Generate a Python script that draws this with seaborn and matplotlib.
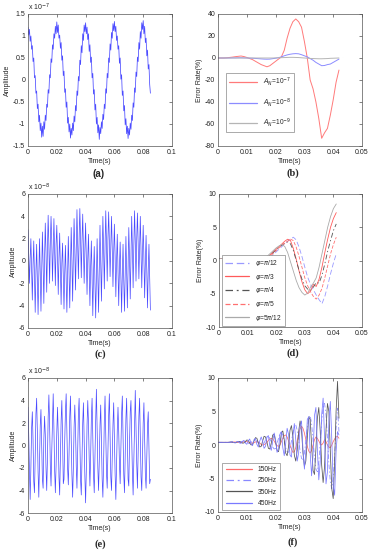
import numpy as np
import pandas as pd
import matplotlib
matplotlib.use("Agg")
import matplotlib.pyplot as plt
from matplotlib.lines import Line2D
import seaborn as sns

# ---------------- DATA ----------------
# (a) signal, units of 1e-7, t from 0 to 0.085 s
sig_a = [1.20, 1.02, 1.15, 0.88, 1.00, 0.70, 0.78, 0.42, 0.50, 0.05, 0.10, -0.30, -0.25, -0.65, -0.55, -0.95, -0.80, -1.15, -0.98, -1.30, -1.05,
         -1.28, -0.95, -1.12, -0.80, -0.92, -0.55, -0.62, -0.22, -0.30, 0.12, 0.05, 0.48, 0.40, 0.80, 0.70, 1.05, 0.95, 1.22, 1.05,
         1.32, 1.08, 1.25, 0.95, 1.02, 0.72, 0.85, 0.45, 0.55, 0.10, 0.20, -0.28, -0.20, -0.62, -0.50, -0.98, -0.85, -1.18, -1.00, -1.32,
         -1.10, -1.25, -0.98, -1.15, -0.82, -0.95, -0.58, -0.70, -0.25, -0.35, 0.08, -0.02, 0.45, 0.35, 0.78, 0.62, 1.05, 0.90, 1.25, 1.10,
         1.30, 1.05, 1.20, 0.92, 1.05, 0.65, 0.80, 0.40, 0.52, 0.05, 0.15, -0.32, -0.22, -0.68, -0.55, -1.00, -0.85, -1.20, -1.02, -1.35,
         -1.08, -1.22, -0.95, -1.10, -0.78, -0.90, -0.55, -0.65, -0.20, -0.30, 0.15, 0.05, 0.50, 0.40, 0.82, 0.68, 1.08, 0.95, 1.28, 1.12,
         1.33, 1.10, 1.22, 0.90, 1.00, 0.70, 0.78, 0.38, 0.50, 0.02, 0.12, -0.35, -0.25, -0.70, -0.58, -1.02, -0.88, -1.22, -1.05, -1.33,
         -1.10, -1.25, -0.98, -1.12, -0.80, -0.92, -0.52, -0.62, -0.18, -0.28, 0.18, 0.08, 0.52, 0.42, 0.85, 0.70, 1.10, 0.95, 1.30, 1.15,
         1.35, 1.05, 1.22, 0.85, 0.95, 0.55, 0.68, 0.25, 0.35, -0.10, -0.30]

# (c) signal, units of 1e-8
sig_c = [2.8, 0.6, -2.0, 0.2, 2.0, -0.8, -3.5, -0.3, 1.8, -1.5, -4.6, -1.0, 1.5, -1.8, -4.8, -1.2,
         2.0, -1.0, -4.5, -0.8, 2.6, -0.3, -3.8, 0.2, 3.4, 0.8, -2.8, 1.0, 4.1, 1.4, -2.0, 1.6,
         4.0, 1.8, -1.8, 1.2, 3.8, 1.0, -2.2, 1.5, 3.2, 0.5, -3.0, 0.3, 2.5, -0.6, -3.9, -0.2,
         1.6, -1.4, -4.3, -1.0, 1.4, -1.7, -4.6, -1.3, 2.2, -1.0, -4.2, -0.6, 3.0, 0.0, -3.6, 0.5,
         3.8, 1.0, -2.6, 1.2, 4.6, 1.6, -1.6, 2.0, 4.7, 2.0, -1.5, 1.8, 4.2, 1.2, -2.0, 1.0,
         3.4, 0.4, -3.0, 0.2, 2.4, -0.8, -4.0, -0.5, 1.8, -1.5, -4.9, -1.2, 1.3, -1.9, -5.1, -1.4,
         2.0, -1.2, -4.6, -0.8, 3.2, -0.2, -3.6, 0.3, 4.0, 1.0, -2.5, 1.3, 4.5, 1.6, -1.8, 1.9,
         4.4, 1.8, -1.4, 1.5, 4.0, 1.1, -2.3, 0.8, 3.3, 0.3, -3.2, 0.0, 2.4, -0.9, -4.0, -0.6,
         1.7, -1.6, -4.6, -1.2, 1.5, -1.8, -4.5, -1.1, 2.2, -1.0, -4.2, -0.5, 3.0, 0.2, -3.4, 0.6,
         4.0, 1.2, -2.4, 1.4, 4.5, 1.7, -1.8, 2.0, 4.3, 1.6, -1.6, 1.4, 4.0, 1.0, -2.4, 0.7,
         3.2, 0.2, -3.3, -0.2, 2.3, -1.0, -4.2, -0.8, 1.5, -1.6, -4.4]

# (e) signal, units of 1e-8
sig_e = [3.4, 1.0, -2.2, -4.8, -2.0, 1.5, 3.0, 0.5, -3.2, -4.2, -1.0, 2.8, 4.2, 1.2, -2.4, -4.6, -1.5, 1.8, 3.2, 0.2,
         -3.0, -3.8, 0.5, 2.6, 1.0, -2.0, -4.0, -1.2, 2.5, 4.5, 2.0, -1.8, -3.6, -0.5, 2.0, 4.6, 1.5, -2.2, -4.2, -1.8,
         1.2, 3.4, 1.0, -2.8, -4.4, -1.0, 2.2, 4.0, 0.8, -3.4, -3.0, 0.4, 3.0, 4.6, 1.2, -2.0, -3.5, -0.8, 2.6, 4.4,
         0.6, -2.6, -4.6, -2.0, 1.6, 3.6, 1.4, -1.8, -3.8, -0.6, 2.8, 4.2, 0.8, -3.0, -4.4, -1.2, 2.0, 3.8, 0.5, -2.8,
         -5.1, -2.2, 1.8, 4.0, 2.0, -1.2, -3.6, -1.0, 2.4, 4.2, 1.0, -2.6, -4.2, -0.8, 2.2, 5.0, 1.6, -2.0, -4.0, -1.4,
         1.8, 3.6, 0.4, -3.0, -4.6, -1.6, 2.2, 4.4, 1.2, -2.4, -3.8, -0.4, 2.6, 4.6, 1.0, -2.8, -4.0, -1.2, 1.8, 3.8,
         0.6, -2.6, -4.8, -1.8, 1.4, 3.4, 1.2, -1.6, -3.4, -0.2, 2.8, 4.4, 1.0, -2.6, -4.2, -1.0, 2.4, 4.2, 0.6, -3.0,
         -3.6, 0.2, 3.0, 4.0, 1.0, -2.4, -4.4, -1.4, 2.0, 4.9, 1.8, -1.6, -3.8, -0.8, 2.6, 4.2, 0.8, -2.8, -4.0, -1.2,
         2.0, 3.8, 0.4, -2.6, -3.8, -1.0, 1.8, 3.0, -0.4, -3.4, -3.0]

# (b) error rates, t = 0 .. 0.042 s step 0.001
b_labels = [r"$A_N$=10$^{-7}$", r"$A_N$=10$^{-8}$", r"$A_N$=10$^{-9}$"]
err_b_7 = [0, 0, 0, 0.2, 0.5, 0.8, 1.2, 1.5, 1.8, 1.3, 0.5, -0.5, -1.5, -3, -4.5, -6, -7, -8, -7, -5,
           -3, -1, 1, 7, 18, 27, 33, 35.5, 33, 28, 15, 0, -20, -28, -40, -55, -73, -68, -64, -52, -38, -22, -11]
err_b_8 = [0, 0, 0, 0, 0, 0.1, 0.1, 0.2, 0.2, 0.1, 0, -0.1, -0.2, -0.4, -0.6, -0.8, -1, -1.1, -1, -0.6,
           -0.2, 0.3, 1, 2, 2.8, 3.4, 3.8, 4, 3.8, 3, 2, 1, -0.5, -2, -4, -5.5, -7, -6.8, -6, -5.5, -4, -2.5, -1]
err_b_9 = [0] * 20 + [0.1, 0.2, 0.3, 0.4, 0.5, 0.6, 0.6, 0.5, 0.4, 0.2,
                      0, -0.2, -0.4, -0.5, -0.6, -0.7, -0.7, -0.6, -0.5, -0.3, -0.2, -0.1, 0]

# (d) error rates, t = 0 .. 0.041 s step 0.001
d_labels = [r"$\varphi$=$\pi$/12", r"$\varphi$=$\pi$/3", r"$\varphi$=$\pi$/4", r"$\varphi$=$\pi$/5", r"$\varphi$=5$\pi$/12"]
d_start = [0.3, 0.3, 0.3, 0.3, 0.3, 0.28, 0.25, 0.22, 0.2, 0.15, 0.1, 0.05, 0, -0.1, -0.2]
err_d_pi12 = d_start + [-0.3, -0.2, 0.1, 0.5, 0.9, 1.3, 1.7, 2.1, 2.5, 2.9, 3.2, 3.5, 3.1, 2.0, 0.6, -1.0, -2.5,
                        -3.6, -4.4, -5.2, -5.9, -6.5, -5.4, -3.8, -2.0, -0.4, 1.0]
err_d_pi3 = d_start + [-0.15, 0.1, 0.5, 0.9, 1.3, 1.7, 2.1, 2.5, 2.9, 3.2, 3.0, 1.8, 0.2, -1.6, -3.2, -4.4, -5.0,
                       -4.6, -3.6, -3.9, -2.8, -1.0, 1.2, 3.2, 5.0, 6.3, 7.2]
err_d_pi4 = d_start + [-0.2, 0.0, 0.4, 0.8, 1.2, 1.6, 2.0, 2.3, 2.6, 2.8, 2.5, 1.5, 0.0, -1.5, -2.8, -3.8, -4.3,
                       -4.5, -4.0, -3.3, -3.4, -2.2, -0.5, 1.4, 3.0, 4.5, 5.5]
err_d_pi5 = d_start + [-0.25, -0.1, 0.3, 0.7, 1.1, 1.5, 1.9, 2.3, 2.6, 2.9, 3.2, 3.0, 2.0, 0.6, -1.0, -2.6, -3.8,
                       -4.7, -5.4, -5.8, -5.2, -4.2, -2.6, -0.8, 1.0, 2.4, 3.5]
err_d_5pi12 = d_start + [-0.1, 0.3, 0.7, 1.1, 1.5, 1.9, 2.2, 2.4, 2.1, 1.2, -0.2, -1.6, -3.0, -4.1, -4.8, -5.2, -4.9,
                         -4.0, -3.4, -2.6, -1.0, 1.0, 3.0, 5.0, 6.6, 7.8, 8.5]

# (f) error rates, t = 0 .. 0.042 s step 0.0005
f_labels = ["150Hz", "250Hz", "350Hz", "450Hz"]
err_f_150 = [0.4] * 10 + [0.42, 0.45, 0.45, 0.42, 0.38, 0.35, 0.35, 0.4, 0.5, 0.55,
                          0.55, 0.45, 0.35, 0.3, 0.3, 0.35, 0.45, 0.5, 0.4, 0.3,
                          0.1, 0.0, 0.05, 0.2, 0.4, 0.7, 0.9, 1.0, 0.9, 0.6,
                          0.2, -0.1, -0.2, 0.0, 0.5, 1.0, 1.4, 1.5, 1.2, 0.6,
                          0.0, -0.6, -1.1, -1.0, -0.4, 0.6, 1.6, 2.4, 2.8, 2.5,
                          1.8, 0.8, -0.2, -0.9, -1.2, -0.8, 0.0, 0.8, 1.2, 1.0,
                          0.6, 0.2, 0.0, 0.3, 0.8, 0.5, 0.0, -0.3, -0.4, 0.0,
                          0.5, 0.9, 1.2, 1.3, 1.0]
err_f_250 = [0.4] * 8 + [0.42, 0.45,
                         0.45, 0.4, 0.35, 0.33, 0.35, 0.42, 0.5, 0.55, 0.5, 0.4,
                         0.3, 0.2, 0.25, 0.4, 0.6, 0.8, 0.85, 0.7, 0.4, 0.1,
                         -0.1, 0.0, 0.3, 0.8, 1.2, 1.3, 1.0, 0.4, -0.3, -0.6,
                         -0.5, 0.2, 1.0, 1.7, 1.9, 1.5, 0.6, -0.4, -1.0, -1.1,
                         -0.5, 0.6, 1.8, 2.7, 3.0, 2.2, 0.8, -0.9, -2.0, -2.2,
                         -1.2, 0.6, 2.6, 4.0, 4.4, 3.2, 0.8, -1.8, -3.6, -4.0,
                         -2.5, 0.4, 3.5, 5.6, 6.2, 4.5, 1.0, -2.8, -5.5, -6.5,
                         -5.0, -1.5, 2.5, 5.5, 2.0]
err_f_350 = [0.4, 0.4, 0.4, 0.4, 0.4, 0.4, 0.4, 0.4, 0.42, 0.45,
             0.42, 0.36, 0.35, 0.42, 0.5, 0.52, 0.4, 0.28, 0.3, 0.5,
             0.75, 0.7, 0.3, 0.0, 0.1, 0.6, 1.1, 1.0, 0.3, -0.3,
             -0.2, 0.6, 1.3, 1.2, 0.4, -0.5, -0.6, 0.3, 1.5, 1.6,
             0.5, -0.8, -1.0, 0.0, 1.8, 2.1, 0.8, -1.2, -1.6, -0.2,
             2.2, 2.9, 1.2, -1.5, -2.4, -0.8, 2.0, 3.6, 2.2, -1.2,
             -3.2, -2.4, 1.0, 4.2, 3.8, 0.0, -3.8, -4.4, -0.6, 4.0,
             5.6, 2.0, -3.0, -5.6, -3.2, 2.2, 6.2, 5.0, -1.0, -6.5,
             -8.0, -2.5, 5.0, 9.5, 4.0]
err_f_450 = [0.4] * 10 + [0.5, 0.35, 0.3, 0.5, 0.55, 0.3, 0.25, 0.55, 0.7, 0.3,
                          0.1, 0.6, 0.9, 0.2, -0.1, 0.7, 1.0, 0.1, -0.3, 0.6,
                          1.2, 0.6, -0.5, -0.2, 1.2, 1.4, -0.2, -0.8, 0.6, 1.8,
                          0.8, -1.1, -0.6, 1.6, 2.0, -0.4, -1.6, 0.2, 2.5, 1.6,
                          -1.5, -1.8, 1.2, 3.2, 0.8, -2.4, -1.2, 2.8, 3.6, -0.6,
                          -3.6, -1.0, 3.8, 4.2, -1.2, -4.6, -1.5, 4.4, 5.6, -0.6,
                          -5.2, -2.5, 4.5, 7.0, 1.0, -5.8, -4.0, 3.5, 6.5, 1.0,
                          -6.0, -7.5, -1.0, 2.0, 1.5]

# ticks
xt_sig = [0, 0.02, 0.04, 0.06, 0.08, 0.1]
xt_sig_lab = ["0", "0.02", "0.04", "0.06", "0.08", "0.1"]
xt_err = [0, 0.01, 0.02, 0.03, 0.04, 0.05]
xt_err_lab = ["0", "0.01", "0.02", "0.03", "0.04", "0.05"]
yt_a = [-1.5, -1, -0.5, 0, 0.5, 1, 1.5]
yt_a_lab = ["-1.5", "-1", "-0.5", "0", "0.5", "1", "1.5"]
yt_ce = [-6, -4, -2, 0, 2, 4, 6]
yt_b = [-80, -60, -40, -20, 0, 20, 40]
yt_df = [-10, -5, 0, 5, 10]

# ---------------- PLOT ----------------
sns.set_theme(style="white")
plt.rcParams["font.family"] = ["Liberation Sans", "DejaVu Sans"]
plt.rcParams["mathtext.fontset"] = "dejavusans"

W, H = 372, 550
fig = plt.figure(figsize=(W / 100, H / 100), dpi=100)


def add_ax(l, t, r, b):
    return fig.add_axes([l / W, 1 - b / H, (r - l) / W, (b - t) / H])


def style(ax, xt, xtl, yt, ytl, ylabel):
    ax.set_xlim(xt[0], xt[-1])
    ax.set_ylim(yt[0], yt[-1])
    ax.set_xticks(xt)
    ax.set_xticklabels(xtl)
    ax.set_yticks(yt)
    ax.set_yticklabels(ytl)
    ax.tick_params(direction="in", length=2.2, width=0.4, labelsize=5, top=True, right=True,
                   pad=2, colors="#222222")
    for s in ax.spines.values():
        s.set_linewidth(0.5)
        s.set_color("#555555")
    ax.set_xlabel("Time(s)", fontsize=5, labelpad=1.5)
    ax.set_ylabel(ylabel, fontsize=5, labelpad=1.5)
    ax.grid(False)


def leg(ax, cols, styles, labels, anchor, hl, ls):
    handles = [Line2D([0], [0], color=c, linestyle=s, linewidth=0.9) for c, s in zip(cols, styles)]
    lg = ax.legend(handles, labels, loc="lower left", bbox_to_anchor=anchor, fontsize=4.8, handlelength=hl,
                   labelspacing=ls, frameon=True, fancybox=False, framealpha=1,
                   borderpad=0.5, handletextpad=0.8, borderaxespad=0)
    lg.get_frame().set_edgecolor("#888888")
    lg.get_frame().set_linewidth(0.5)


sig_col = "#4a4aff"

# (a)
ax = add_ax(28, 14, 172, 146)
t = np.linspace(0, 0.085, len(sig_a))
sns.lineplot(x=t, y=sig_a, ax=ax, color=sig_col, linewidth=0.55, estimator=None, sort=False)
style(ax, xt_sig, xt_sig_lab, yt_a, yt_a_lab, "Amplitude")
ax.text(0.0, 1.01, r"x 10$^{-7}$", transform=ax.transAxes, fontsize=5, ha="left", va="bottom")

# (c)
ax = add_ax(28, 194, 172, 328)
t = np.linspace(0, 0.085, len(sig_c))
sns.lineplot(x=t, y=sig_c, ax=ax, color=sig_col, linewidth=0.5, estimator=None, sort=False)
style(ax, xt_sig, xt_sig_lab, yt_ce, [str(v) for v in yt_ce], "Amplitude")
ax.text(0.0, 1.01, r"x 10$^{-8}$", transform=ax.transAxes, fontsize=5, ha="left", va="bottom")

# (e)
ax = add_ax(28, 378, 172, 513)
t = np.linspace(0, 0.085, len(sig_e))
sns.lineplot(x=t, y=sig_e, ax=ax, color=sig_col, linewidth=0.5, estimator=None, sort=False)
style(ax, xt_sig, xt_sig_lab, yt_ce, [str(v) for v in yt_ce], "Amplitude")
ax.text(0.0, 1.01, r"x 10$^{-8}$", transform=ax.transAxes, fontsize=5, ha="left", va="bottom")

# (b)
ax = add_ax(218, 14, 362, 146)
tb = np.linspace(0, 0.042, len(err_b_7))
b_cols = ["#ff7a7a", "#8c8cff", "#b5b5b5"]
for vals, col in zip([err_b_7, err_b_8, err_b_9], b_cols):
    sns.lineplot(x=tb, y=vals, ax=ax, color=col, linewidth=0.7, estimator=None, sort=False)
style(ax, xt_err, xt_err_lab, yt_b, [str(v) for v in yt_b], "Error Rate(%)")
leg(ax, b_cols, ["-", "-", "-"], b_labels, (0.055, 0.105), 4.2, 1.15)

# (d)
ax = add_ax(219, 194, 362, 327)
td = np.linspace(0, 0.041, len(err_d_pi12))
d_series = [err_d_pi12, err_d_pi3, err_d_pi4, err_d_pi5, err_d_5pi12]
d_cols = ["#9a9aff", "#ff5a5a", "#555555", "#ff7070", "#aaaaaa"]
d_ls = [(0, (6, 3)), "-", (0, (6, 3, 1.5, 3)), (0, (4, 2)), "-"]
for vals, col, ls in zip(d_series, d_cols, d_ls):
    sns.lineplot(x=td, y=vals, ax=ax, color=col, linewidth=0.6, linestyle=ls,
                 estimator=None, sort=False)
style(ax, xt_err, xt_err_lab, yt_df, [str(v) for v in yt_df], "Error Rate(%)")
leg(ax, d_cols, d_ls, d_labels, (0.02, 0.008), 3.6, 0.55)

# (f)
ax = add_ax(218, 378, 362, 512)
tf = np.linspace(0, 0.042, len(err_f_150))
f_series = [err_f_150, err_f_250, err_f_350, err_f_450]
f_cols = ["#ff6a6a", "#8888ff", "#555555", "#7a7aff"]
f_ls = ["-", (0, (6, 3, 1.5, 3)), "-", "-"]
for vals, col, ls in zip(f_series, f_cols, f_ls):
    sns.lineplot(x=tf, y=vals, ax=ax, color=col, linewidth=0.55, linestyle=ls,
                 estimator=None, sort=False)
style(ax, xt_err, xt_err_lab, yt_df, [str(v) for v in yt_df], "Error Rate(%)")
leg(ax, f_cols, f_ls, f_labels, (0.03, 0.012), 4.0, 0.65)

# panel labels
fig.text(99 / W, 1 - 174 / H, "(a)", ha="center", va="center", fontsize=7, fontweight="bold",
         family=["Liberation Sans"])
for lab, x, y in [("(b)", 293, 173), ("(c)", 100, 354), ("(d)", 293, 353), ("(e)", 100, 544), ("(f)", 293, 542)]:
    fig.text(x / W, 1 - y / H, lab, ha="center", va="center", fontsize=7.5, fontweight="bold",
             family=["Liberation Serif"])

fig.savefig("out.png", dpi=100)
